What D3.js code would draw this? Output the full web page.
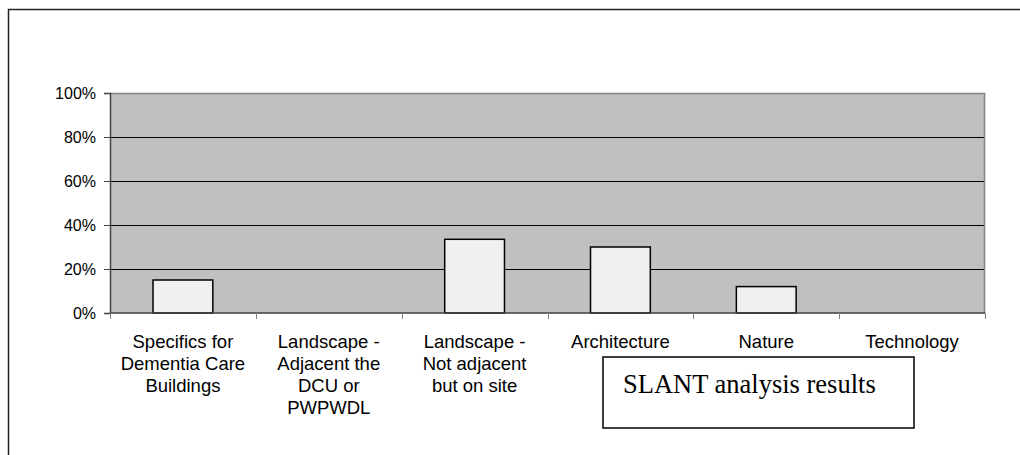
<!DOCTYPE html>
<html>
<head>
<meta charset="utf-8">
<script src="https://cdn.jsdelivr.net/npm/d3@7"></script>
<style>
  html, body { margin: 0; padding: 0; background: #ffffff; }
  svg { display: block; }
</style>
</head>
<body>
<svg id="chart" width="1020" height="455"></svg>
<script>
// Share of SLANT items falling in each category
const categories = [
  ["Specifics for", "Dementia Care", "Buildings"],
  ["Landscape -", "Adjacent the", "DCU or", "PWPWDL"],
  ["Landscape -", "Not adjacent", "but on site"],
  ["Architecture"],
  ["Nature"],
  ["Technology"]
];
const shares = [0.15, 0, 0.335, 0.30, 0.12, 0];
const yTicks = [0, 0.2, 0.4, 0.6, 0.8, 1.0];
const boxTitle = "SLANT analysis results";

const svg = d3.select("#chart");
const plot = { left: 110, top: 93, right: 985, bottom: 313 };

// outer chart frame (extends past the right and bottom edges)
svg.append("rect")
  .attr("x", 8.5).attr("y", 9.5)
  .attr("width", 1040).attr("height", 480)
  .attr("fill", "#ffffff")
  .attr("stroke", "#222").attr("stroke-width", 1.5);

const ids = categories.map((d, i) => i);
const x = d3.scaleBand()
  .domain(ids)
  .range([plot.left, plot.right])
  .paddingInner(0.59)
  .paddingOuter(0.295);
const slot = d3.scaleBand().domain(ids).range([plot.left, plot.right]).padding(0);

const y = d3.scaleLinear().domain([0, 1]).range([plot.bottom, plot.top]);

// plot background
svg.append("rect")
  .attr("x", plot.left).attr("y", plot.top)
  .attr("width", plot.right - plot.left).attr("height", plot.bottom - plot.top)
  .attr("fill", "#c0c0c0");

// gridlines
svg.append("g").selectAll("line")
  .data(yTicks.filter(t => t > 0 && t < 1))
  .join("line")
  .attr("x1", plot.left).attr("x2", plot.right)
  .attr("y1", d => Math.round(y(d)) + 0.5).attr("y2", d => Math.round(y(d)) + 0.5)
  .attr("stroke", "#000").attr("stroke-width", 1);

// top and right border of plot area
svg.append("path")
  .attr("d", `M${plot.left},${plot.top + 0.5}H${plot.right - 0.5}V${plot.bottom}`)
  .attr("fill", "none").attr("stroke", "#808080").attr("stroke-width", 1.5);

// bars
svg.append("g").selectAll("rect")
  .data(shares.map((v, i) => ({ v, i })).filter(d => d.v > 0))
  .join("rect")
  .attr("x", d => x(d.i))
  .attr("width", x.bandwidth())
  .attr("y", d => y(d.v))
  .attr("height", d => y(0) - y(d.v))
  .attr("fill", "#f0f0f0")
  .attr("stroke", "#000").attr("stroke-width", 1.5);

// y axis
const yAxis = svg.append("g")
  .attr("transform", `translate(${plot.left},0)`)
  .call(d3.axisLeft(y).tickValues(yTicks).tickFormat(d3.format(".0%")).tickSize(6).tickPadding(8));
yAxis.select(".domain").attr("stroke", "#404040").attr("stroke-width", 1.5);
yAxis.selectAll(".tick line").attr("stroke", "#404040");
yAxis.selectAll(".tick text")
  .attr("font-family", "Liberation Sans, Arial, sans-serif")
  .attr("font-size", 16).attr("fill", "#000");

// x axis with ticks between categories
const xAxisG = svg.append("g").attr("transform", `translate(0,${plot.bottom})`);
xAxisG.append("line")
  .attr("x1", plot.left).attr("x2", plot.right)
  .attr("stroke", "#404040").attr("stroke-width", 1.5);
const bounds = ids.map(i => slot(i)).concat([plot.right]);
xAxisG.selectAll("line.tk")
  .data(bounds)
  .join("line").attr("class", "tk")
  .attr("x1", d => Math.round(d) + 0.5).attr("x2", d => Math.round(d) + 0.5)
  .attr("y1", 0).attr("y2", 6)
  .attr("stroke", "#808080").attr("stroke-width", 1);

// category labels
const lab = xAxisG.selectAll("text.cat")
  .data(categories)
  .join("text").attr("class", "cat")
  .attr("x", (d, i) => slot(i) + slot.bandwidth() / 2)
  .attr("y", 35)
  .attr("text-anchor", "middle")
  .attr("font-family", "Liberation Sans, Arial, sans-serif")
  .attr("font-size", 18.5).attr("fill", "#000");
lab.selectAll("tspan")
  .data((d, i) => d.map(s => ({ s, i })))
  .join("tspan")
  .attr("x", d => slot(d.i) + slot.bandwidth() / 2)
  .attr("dy", (d, k) => k === 0 ? 0 : 22)
  .text(d => d.s);

// caption box
svg.append("rect")
  .attr("x", 603).attr("y", 357)
  .attr("width", 311).attr("height", 71)
  .attr("fill", "#ffffff")
  .attr("stroke", "#000").attr("stroke-width", 1.5);
svg.append("text")
  .attr("x", 623).attr("y", 393)
  .attr("font-family", "Liberation Serif, Times New Roman, serif")
  .attr("font-size", 26.5).attr("fill", "#000")
  .text(boxTitle);
</script>
</body>
</html>
